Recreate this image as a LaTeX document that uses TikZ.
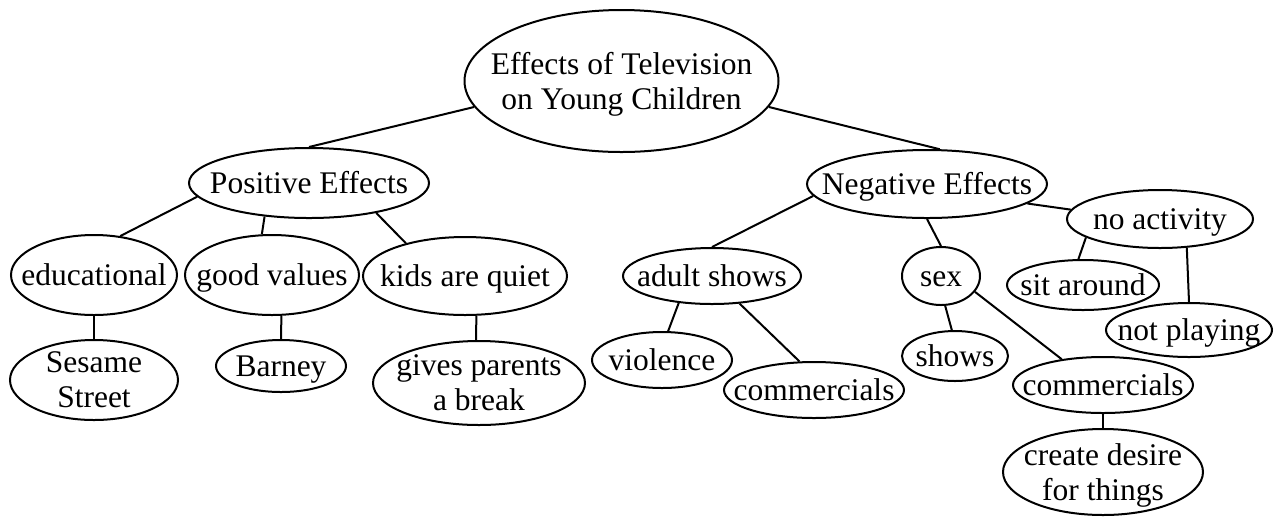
\documentclass[tikz,border=0pt]{standalone}
\usepackage{fontspec}
\setmainfont{Liberation Serif}
\usetikzlibrary{shapes.geometric}
\begin{document}
\begin{tikzpicture}[x=0.5pt, y=-0.5pt, line width=1pt,
	font=\fontsize{15.75}{17.5}\selectfont,
	bub/.style={ellipse, draw, inner sep=0pt},
	lab/.style={align=center, inner sep=0pt, text height=10.8pt, text depth=0pt},
	lab2/.style={align=center, inner sep=0pt, text depth=0pt}]
	\useasboundingbox (0,0) rectangle (1275,516);
	% top
	\node[bub, minimum width=157pt, minimum height=71pt, label={[lab2]center:Effects of Television\\on Young Children}] (root) at (621.5,81) {};
	\node[bub, minimum width=120pt, minimum height=35pt, label={[lab]center:Positive Effects}] (pos) at (309,183) {};
	\node[bub, minimum width=120pt, minimum height=34pt, label={[lab]center:Negative Effects}] (neg) at (927,184) {};
	% positive side
	\node[bub, minimum width=83pt, minimum height=40pt, label={[lab]center:educational}]    (edu)    at (94,275) {};
	\node[bub, minimum width=87pt, minimum height=40pt, label={[lab]center:good values}]    (good)   at (272,275) {};
	\node[bub, minimum width=102pt, minimum height=39pt, label={[lab]center:kids are quiet}] (kids)   at (465,276) {};
	\node[bub, minimum width=84pt, minimum height=40pt, label={[lab2]center:Sesame\\Street}]  (sesame) at (94,380) {};
	\node[bub, minimum width=65pt, minimum height=26pt, label={[lab]center:Barney}]         (barney) at (281,366) {};
	\node[bub, minimum width=106pt, minimum height=42pt, label={[lab2]center:gives parents\\a break}] (gives) at (479,383) {};
	% negative side
	\node[bub, minimum width=89pt, minimum height=28pt, label={[lab]center:adult shows}] (adult) at (712,276) {};
	\node[bub, minimum width=39pt, minimum height=29pt, label={[lab]center:sex}]         (sex)   at (941,276) {};
	\node[bub, minimum width=93pt, minimum height=29pt, label={[lab]center:no activity}] (noact) at (1160,219) {};
	\node[bub, minimum width=76pt, minimum height=25pt, label={[lab]center:sit around}]  (sit)   at (1083,285) {};
	\node[bub, minimum width=83pt, minimum height=27pt, label={[lab]center:not playing}] (notpl) at (1189,330) {};
	\node[bub, minimum width=70pt, minimum height=28pt, label={[lab]center:violence}]    (viol)  at (662,360) {};
	\node[bub, minimum width=90pt, minimum height=28pt, label={[lab]center:commercials}] (comA)  at (814,390) {};
	\node[bub, minimum width=53pt, minimum height=25pt, label={[lab]center:shows}]       (shows) at (955,356) {};
	\node[bub, minimum width=90pt, minimum height=28pt, label={[lab]center:commercials}] (comS)  at (1103,385) {};
	\node[bub, minimum width=100pt, minimum height=43pt, label={[lab2]center:create desire\\for things}] (desire) at (1103,472) {};
	% links
	\draw (root.190) -- (pos.north);
	\draw (root.350) -- (neg.70);
	\draw (pos.187) -- (edu.56);
	\draw (pos.217) -- (good.104);
	\draw (pos.336) -- (kids.151);
	\draw (edu.south) -- (sesame.north);
	\draw (good.283) -- (barney.north);
	\draw (kids.286) -- (gives.94);
	\draw (neg.186) -- (adult.north);
	\draw (neg.south) -- (sex.north);
	\draw (neg.349) -- (noact.174);
	\draw (noact.194) -- (sit.100);
	\draw (noact.313) -- (notpl.north);
	\draw (adult.219) -- (viol.78);
	\draw (adult.315) -- (comA.117);
	\draw (sex.278) -- (shows.97);
	\draw (sex.335) -- (comS.148);
	\draw (comS.south) -- (desire.north);
\end{tikzpicture}
\end{document}
